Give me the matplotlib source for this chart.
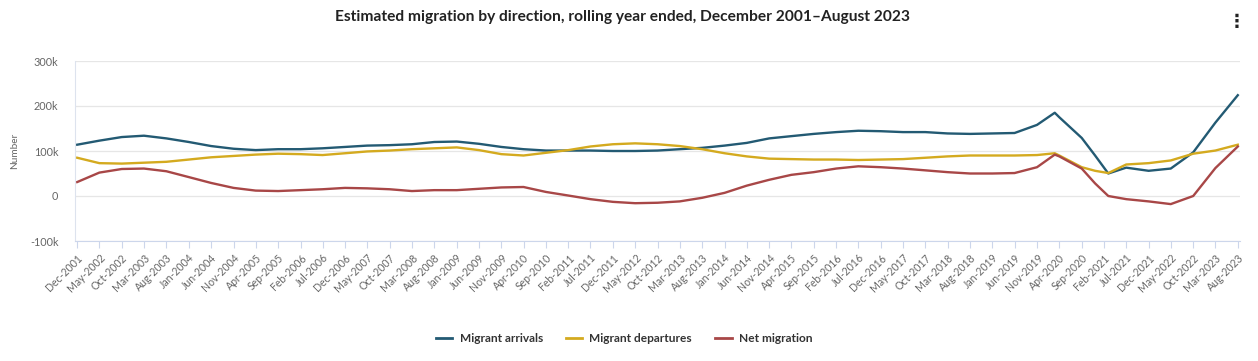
import numpy as np
import pandas as pd
import matplotlib
matplotlib.use("Agg")
import matplotlib.pyplot as plt

# rolling year ended, readings taken off the chart (thousands)
months = [
    "Dec-2001", "May-2002", "Oct-2002", "Mar-2003", "Aug-2003", "Jan-2004", "Jun-2004", "Nov-2004",
    "Apr-2005", "Sep-2005", "Feb-2006", "Jul-2006", "Dec-2006", "May-2007", "Oct-2007", "Mar-2008",
    "Aug-2008", "Jan-2009", "Jun-2009", "Nov-2009", "Apr-2010", "Sep-2010", "Feb-2011", "Jul-2011",
    "Dec-2011", "May-2012", "Oct-2012", "Mar-2013", "Aug-2013", "Jan-2014", "Jun-2014", "Nov-2014",
    "Apr-2015", "Sep-2015", "Feb-2016", "Jul-2016", "Dec-2016", "May-2017", "Oct-2017", "Mar-2018",
    "Aug-2018", "Jan-2019", "Jun-2019", "Nov-2019", "Mar-2020", "Apr-2020", "Sep-2020", "Dec-2020",
    "Mar-2021", "Jul-2021", "Dec-2021", "May-2022", "Oct-2022", "Mar-2023", "Aug-2023",
]
arrivals = [
    114, 123, 131, 134, 128, 120, 111, 105,
    102, 104, 104, 106, 109, 112, 113, 115,
    120, 121, 116, 109, 104, 101, 101, 101,
    100, 100, 101, 104, 107, 112, 118, 128,
    133, 138, 142, 145, 144, 142, 142, 139,
    138, 139, 140, 158, 185, 175, 129, 90,
    50, 63, 56, 61, 97, 163, 224,
]
departures = [
    85, 73, 72, 74, 76, 81, 86, 89,
    92, 94, 93, 91, 95, 99, 101, 104,
    106, 108, 102, 93, 90, 96, 102, 110,
    115, 117, 115, 111, 104, 95, 88, 83,
    82, 81, 81, 80, 81, 82, 85, 88,
    90, 90, 90, 91, 95, 90, 64, 56,
    51, 70, 73, 79, 94, 101, 114,
]
net = [
    31, 52, 60, 61, 55, 42, 29, 18,
    12, 11, 13, 15, 18, 17, 15, 11,
    13, 13, 16, 19, 20, 9, 1, -7,
    -13, -16, -15, -12, -4, 7, 23, 36,
    47, 53, 61, 66, 64, 61, 57, 53,
    50, 50, 51, 64, 92, 88, 61, 28,
    0, -7, -12, -18, 0, 62, 110,
]
series_names = ["Migrant arrivals", "Migrant departures", "Net migration"]
colors = ["#235a73", "#d4aa1f", "#a84747"]

dates = pd.to_datetime(months, format="%b-%Y")
tick_dates = pd.date_range("2001-12-01", "2023-08-01", freq="5MS")

plt.rcParams["font.family"] = ["Lato", "DejaVu Sans"]

fig = plt.figure(figsize=(12.58, 3.61), dpi=100)
ax = fig.add_axes([75 / 1258, 1 - 241 / 361, (1240 - 75) / 1258, (241 - 61) / 361])

for vals, name, c in zip([arrivals, departures, net], series_names, colors):
    ax.plot(dates, np.array(vals) * 1000, color=c, lw=1.7, label=name, solid_joinstyle="round")

pad = pd.Timedelta(days=15)
ax.set_xlim(dates[0] - pad, dates[-1] + pad)
ax.set_ylim(-100000, 300000)
ax.set_yticks([-100000, 0, 100000, 200000, 300000])
ax.set_yticklabels(["-100k", "0", "100k", "200k", "300k"])
ax.set_xticks(tick_dates)
ax.set_xticklabels([d.strftime("%b-%Y") for d in tick_dates], rotation=45,
                   ha="right", va="top", rotation_mode="anchor")

ax.grid(axis="y", color="#e6e6e6", lw=0.9)
ax.set_axisbelow(True)
for s in ["top", "right"]:
    ax.spines[s].set_visible(False)
ax.spines["left"].set_color("#dde3ee")
ax.spines["bottom"].set_color("#ccd6eb")
ax.tick_params(axis="y", length=0, labelsize=7.8, labelcolor="#666666", pad=12)
ax.tick_params(axis="x", length=5, color="#ccd6eb", labelsize=7.6, labelcolor="#666666", pad=3)
ax.set_ylabel("Number", fontsize=7.2, color="#666666", labelpad=8)

fig.text(0.495, 1 - 17 / 361, "Estimated migration by direction, rolling year ended, December 2001\u2013August 2023",
         ha="center", va="center", fontsize=11.2, fontweight="bold", color="#222222")
fig.text(1237 / 1258, 1 - 22 / 361, "\u22ee", ha="center", va="center", fontsize=13,
         fontweight="bold", color="#222222", family="DejaVu Sans")

leg = fig.legend(loc="center", bbox_to_anchor=(0.496, 1 - 339 / 361), ncol=3, frameon=False,
                 fontsize=8.6, handlelength=1.4, columnspacing=1.9, handletextpad=0.6)
for t in leg.get_texts():
    t.set_fontweight("bold")
    t.set_color("#333333")
for h in leg.get_lines():
    h.set_linewidth(2)

fig.savefig("out.png", dpi=100)
